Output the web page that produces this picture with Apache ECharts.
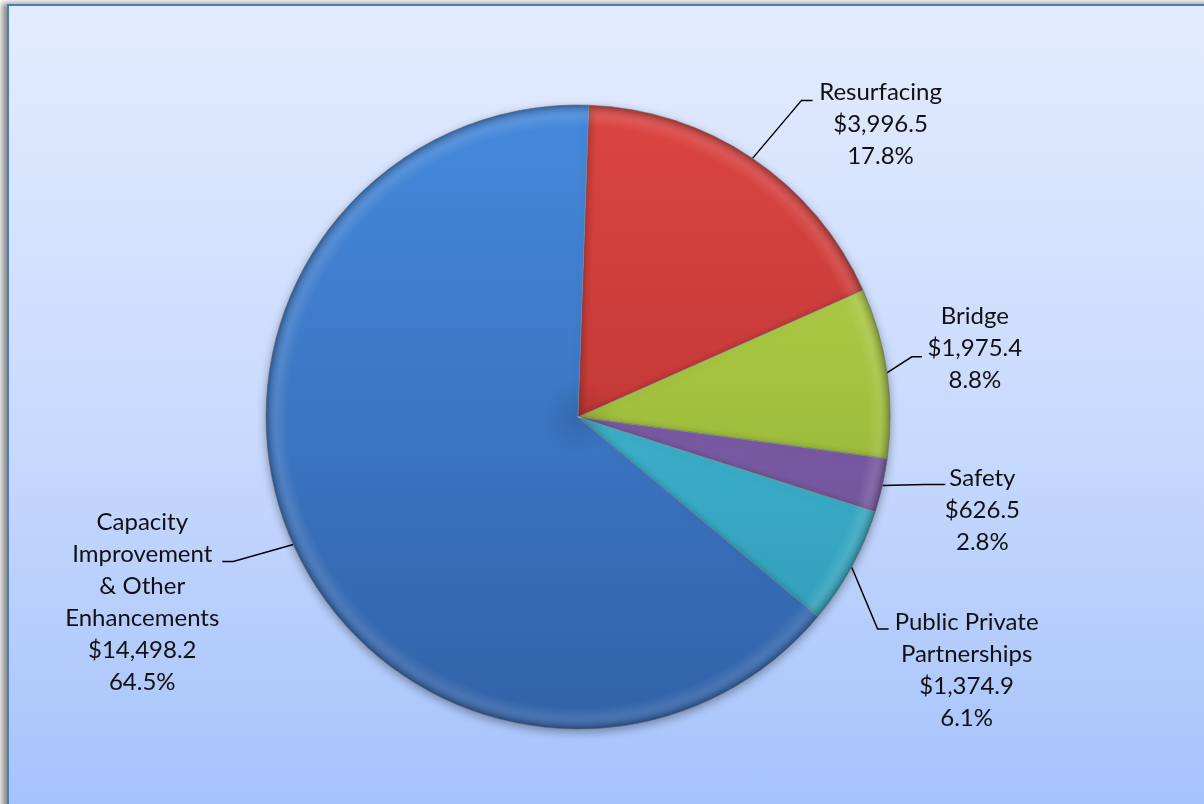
<!DOCTYPE html>
<html>
<head>
<meta charset="utf-8">
<script src="https://cdn.jsdelivr.net/npm/echarts@6/dist/echarts.min.js"></script>
<style>
  html, body { margin: 0; padding: 0; width: 1204px; height: 804px; overflow: hidden; background: #ffffff; }
  #frame {
    position: absolute; left: 7px; top: 4px; width: 1230px; height: 830px;
    border-left: 2px solid #4a7ebb; border-top: 2px solid #4a7ebb;
    background: linear-gradient(to bottom, #e3ecfe 0%, #c9dafd 50%, #a3c1fb 100%);
    box-shadow: -5px -1px 6px rgba(0,0,0,0.45);
  }
  #chart { position: absolute; left: 0; top: 0; width: 1204px; height: 804px; }
</style>
</head>
<body>
<div id="frame"></div>
<div id="chart"></div>
<script>
// Program spending by category (millions of dollars)
const categories = ['Resurfacing', 'Bridge', 'Safety', 'Public Private Partnerships', 'Capacity Improvement & Other Enhancements'];
const labelNames = ['Resurfacing', 'Bridge', 'Safety', 'Public Private\nPartnerships', 'Capacity\nImprovement\n& Other\nEnhancements'];
const values = [3996.5, 1975.4, 626.5, 1374.9, 14498.2];

// slice colours: [top, bottom] of the vertical shading
const sliceColors = [
  ['#dc4542', '#ac2e2c'],
  ['#bcd84f', '#86a52c'],
  ['#8a6ab4', '#6a4c92'],
  ['#4fc6df', '#2b98b3'],
  ['#4589dc', '#3262a8']
];

// label placement relative to each slice's anchor point on the rim
// ex/ey: elbow of the leader, tail: horizontal run, tx/ty: text centre / first line centre
const labelPlacement = [
  { ex: 49, ey: -58, tail: 11, tx: 128, ty: -66 },
  { ex: 25, ey: -16, tail: 10, tx: 88, ty: -56 },
  { ex: 42, ey: -1, tail: 21, tx: 100, ty: -7 },
  { ex: 26, ey: 62, tail: 11, tx: 115, ty: 55 },
  { ex: -60, ey: 17, tail: -11, tx: -151, ty: -22 }
];

const CX = 578, CY = 417, R = 312, LINE_H = 32;
const total = values.reduce((a, b) => a + b, 0);

function money(v) {
  return '$' + v.toLocaleString('en-US', { minimumFractionDigits: 1, maximumFractionDigits: 1 });
}

const data = categories.map((name, i) => ({
  name: name,
  value: values[i],
  itemStyle: {
    color: new echarts.graphic.LinearGradient(0, CY - R, 0, CY + R, [
      { offset: 0, color: sliceColors[i][0] },
      { offset: 1, color: sliceColors[i][1] }
    ], true)
  }
}));

const chart = echarts.init(document.getElementById('chart'), null, { renderer: 'canvas' });

chart.setOption({
  backgroundColor: 'transparent',
  animation: false,
  series: [
    {
      type: 'pie',
      center: [CX, CY],
      radius: [0, R],
      startAngle: 88,
      clockwise: true,
      avoidLabelOverlap: false,
      data: data,
      itemStyle: {
        borderColor: 'rgba(30,45,70,0.45)',
        borderWidth: 1,
        shadowBlur: 10,
        shadowColor: 'rgba(0,0,0,0.35)',
        shadowOffsetY: 3
      },
      label: {
        show: true,
        position: 'outside',
        formatter: function (p) {
          const i = p.dataIndex;
          const lines = labelNames[i].split('\n');
          lines.push(money(values[i]));
          lines.push((values[i] / total * 100).toFixed(1) + '%');
          return lines.map(l => '{c|' + l + '}').join('\n');
        },
        rich: {
          c: {
            fontFamily: 'Lato, "Open Sans", sans-serif',
            fontSize: 24,
            color: '#111111',
            lineHeight: LINE_H,
            align: 'center'
          }
        }
      },
      labelLine: {
        show: true,
        length: 20,
        length2: 10,
        lineStyle: { color: '#000000', width: 1.5 }
      },
      labelLayout: function (params) {
        const i = params.dataIndex;
        const a = params.labelLinePoints[0];
        const o = labelPlacement[i];
        const ex = a[0] + o.ex, ey = a[1] + o.ey;
        return {
          x: a[0] + o.tx,
          y: a[1] + o.ty - LINE_H / 2,
          align: 'center',
          verticalAlign: 'top',
          labelLinePoints: [[a[0], a[1]], [ex, ey], [ex + o.tail, ey]]
        };
      },
      emphasis: { disabled: true }
    },
    {
      // bevel shading over the same slices: dark rim and soft highlight
      type: 'pie',
      silent: true,
      center: [CX, CY],
      radius: [0, R],
      startAngle: 88,
      clockwise: true,
      label: { show: false },
      labelLine: { show: false },
      data: values.map(v => ({
        value: v,
        itemStyle: {
          color: new echarts.graphic.RadialGradient(CX, CY, R, [
            { offset: 0, color: 'rgba(0,0,0,0.10)' },
            { offset: 0.12, color: 'rgba(0,0,0,0)' },
            { offset: 0.93, color: 'rgba(255,255,255,0)' },
            { offset: 0.965, color: 'rgba(255,255,255,0.10)' },
            { offset: 1, color: 'rgba(0,0,0,0.28)' }
          ], true)
        }
      })),
      itemStyle: { borderColor: 'rgba(255,255,255,0.18)', borderWidth: 1 },
      emphasis: { disabled: true }
    }
  ]
});
</script>
</body>
</html>
